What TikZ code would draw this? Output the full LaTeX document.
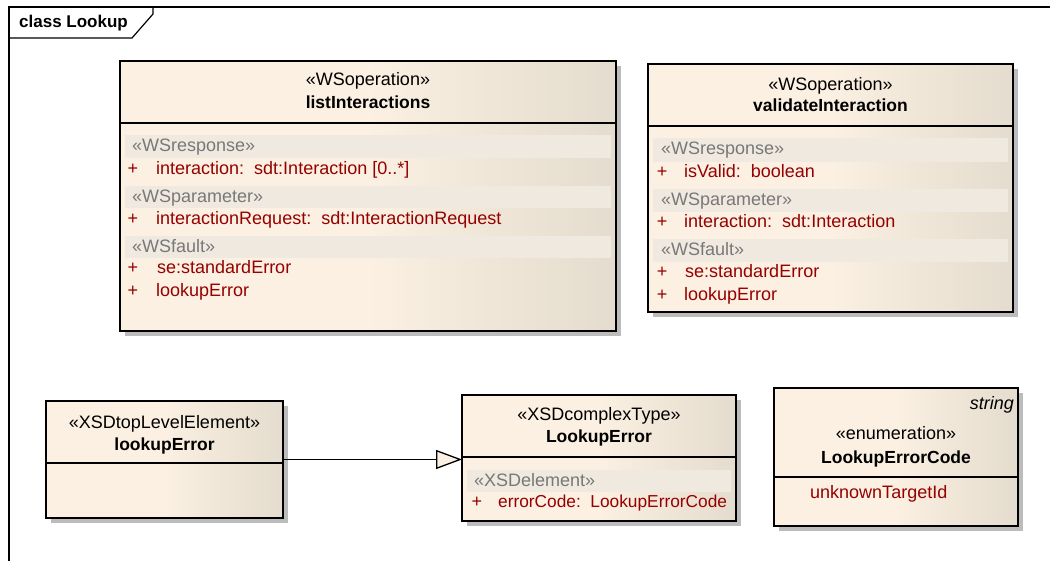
\documentclass[tikz,border=0pt]{standalone}
\usepackage{fontspec}
\setmainfont{Liberation Sans}
\usetikzlibrary{arrows.meta,shadows}

\definecolor{cream}{RGB}{251,240,226}
\definecolor{beige}{RGB}{228,220,206}
\definecolor{bandfill}{RGB}{240,233,223}
\definecolor{attrred}{RGB}{150,0,0}
\definecolor{stereogray}{RGB}{120,120,120}
\definecolor{shadowgray}{RGB}{188,188,188}

% class body: flat cream on the left, fading to beige on the right
\pgfdeclarehorizontalshading{umlfill}{100bp}{color(0bp)=(cream); color(50bp)=(cream); color(75bp)=(beige); color(100bp)=(beige)}

\tikzset{
  umlbox/.style={draw=black, line width=1.3pt, shading=umlfill, inner sep=0pt, outer sep=0pt,
    anchor=north west,
    drop shadow={shadow xshift=5pt, shadow yshift=-5pt, fill=shadowgray, opacity=1}},
  txt/.style={inner sep=0pt, yshift=-3pt, font=\fontsize{18}{21}\selectfont},
  hdr/.style={txt, anchor=mid},
  clsname/.style={txt, anchor=mid, font=\fontsize{17.5}{20}\selectfont\bfseries},
  bandtxt/.style={txt, anchor=mid west, text=stereogray},
  vis/.style={txt, anchor=mid, text=attrred},
  member/.style={txt, anchor=mid west, text=attrred},
  divider/.style={line width=1.3pt},
  band/.style={fill=bandfill},
}

\begin{document}
\begin{tikzpicture}[x=1pt, y=-1pt]
\useasboundingbox (0,0) rectangle (1050,561);

% diagram frame with its name tab
\draw[line width=1.2pt] (9,561) -- (9,7) -- (1052,7);
\draw[line width=1.2pt] (9,38) -- (132,38) -- (153,14) -- (153,7);
\node[txt, anchor=mid west, font=\fontsize{17}{20}\selectfont\bfseries] (title) at (19,22) {class Lookup};

% ---- listInteractions ----
\node[umlbox, minimum width=496pt, minimum height=270pt] (li) at (120,61) {};
\draw[divider] (li.west |- 0,123) -- (li.east |- 0,123);
\node[hdr] (liS) at (368,80) {«WSoperation»};
\node[clsname] (liN) at (368,103) {listInteractions};
\fill[band] (125,135) rectangle (611,158);
\fill[band] (125,186) rectangle (611,208);
\fill[band] (125,236) rectangle (611,258);
\node[bandtxt] (liB1) at (132,146) {«WSresponse»};
\node[vis] (liP1) at (133,169) {+};
\node[member] (liM1) at (156,169) {interaction:\ \ sdt:Interaction [0..*]};
\node[bandtxt] (liB2) at (132,197) {«WSparameter»};
\node[vis] (liP2) at (133,219) {+};
\node[member] (liM2) at (156,219) {interactionRequest:\ \ sdt:InteractionRequest};
\node[bandtxt] (liB3) at (132,247) {«WSfault»};
\node[vis] (liP3) at (133,268) {+};
\node[member] (liM3) at (157,268) {se:standardError};
\node[vis] (liP4) at (133,291) {+};
\node[member] (liM4) at (156,291) {lookupError};

% ---- validateInteraction ----
\node[umlbox, minimum width=365pt, minimum height=248pt] (vi) at (648,64) {};
\draw[divider] (vi.west |- 0,126) -- (vi.east |- 0,126);
\node[hdr] (viS) at (830.5,85) {«WSoperation»};
\node[clsname] (viN) at (830.5,106) {validateInteraction};
\fill[band] (653,138) rectangle (1008,162);
\fill[band] (653,189) rectangle (1008,212);
\fill[band] (653,239) rectangle (1008,262);
\node[bandtxt] (viB1) at (661,149) {«WSresponse»};
\node[vis] (viP1) at (662,172) {+};
\node[member] (viM1) at (684,172) {isValid:\ \ boolean};
\node[bandtxt] (viB2) at (661,200) {«WSparameter»};
\node[vis] (viP2) at (662,222) {+};
\node[member] (viM2) at (684,222) {interaction:\ \ sdt:Interaction};
\node[bandtxt] (viB3) at (661,250) {«WSfault»};
\node[vis] (viP3) at (662,272) {+};
\node[member] (viM3) at (685,272) {se:standardError};
\node[vis] (viP4) at (662,295) {+};
\node[member] (viM4) at (684,295) {lookupError};

% ---- lookupError (top level element) ----
\node[umlbox, minimum width=237pt, minimum height=117pt] (le) at (46,401) {};
\draw[divider] (le.west |- 0,463) -- (le.east |- 0,463);
\node[hdr] (leS) at (164.5,423) {«XSDtopLevelElement»};
\node[clsname] (leN) at (164.5,445) {lookupError};

% ---- LookupError (complex type) ----
\node[umlbox, minimum width=274pt, minimum height=126pt] (lc) at (462,395) {};
\draw[divider] (lc.west |- 0,457) -- (lc.east |- 0,457);
\node[hdr] (lcS) at (599,415) {«XSDcomplexType»};
\node[clsname] (lcN) at (599,437) {LookupError};
\fill[band] (467,470) rectangle (731,492);
\node[bandtxt] (lcB1) at (474,481) {«XSDelement»};
\node[vis] (lcP1) at (477,502) {+};
\node[member, font=\fontsize{17.3}{20}\selectfont] (lcM1) at (498,502) {errorCode:\ \ LookupErrorCode};

% ---- LookupErrorCode (enumeration) ----
\node[umlbox, minimum width=244pt, minimum height=138pt] (ec) at (774,388) {};
\draw[divider] (ec.west |- 0,477) -- (ec.east |- 0,477);
\node[txt, anchor=mid east, font=\fontsize{18}{21}\selectfont\itshape] (ecT) at (1014,404) {string};
\node[hdr] (ecS) at (896,434) {«enumeration»};
\node[clsname] (ecN) at (896,458) {LookupErrorCode};
\node[member] (ecM1) at (810,493) {unknownTargetId};

% generalization: element -> complex type
\draw[line width=1.3pt, -{Triangle[fill=cream, length=26pt, width=19pt, line width=1.3pt]}]
  (le.east) -- (lc.west |- le.east);

\end{tikzpicture}
\end{document}
